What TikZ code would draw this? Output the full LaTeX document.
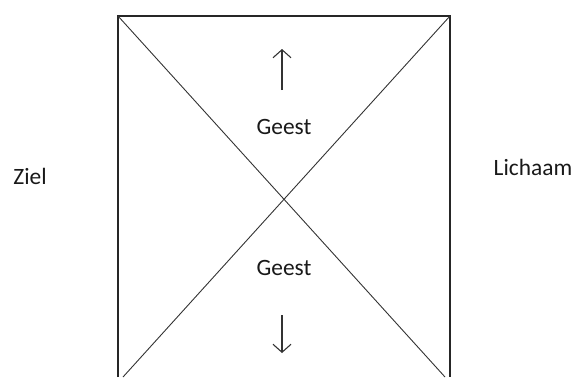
\documentclass[tikz,border=0pt]{standalone}
\usepackage{fontspec}
\setmainfont{Carlito}
\usetikzlibrary{arrows.meta, positioning}
\tikzset{
    frameLine/.style={line width=1.4bp, black!85},
    crossLine/.style={line width=0.9bp, black!80},
    flowArrow/.style={line width=1.1bp, black!80, -{Straight Barb[length=8bp, width=18bp]}},
    label/.style={font=\fontsize{23.5}{28}\selectfont, text=black!90, inner sep=0pt},
}

\begin{document}
\begin{tikzpicture}[x=1bp, y=-1bp]
    \useasboundingbox (0,0) rectangle (577,377);

    % FRAME
    \coordinate (TopLeft) at (118,16);
    \coordinate (TopRight) at (450,16);
    \coordinate (BotLeft) at (118,377);
    \coordinate (BotRight) at (450,377);
    \coordinate (CrossLeft) at (123,377);
    \coordinate (CrossRight) at (445,377);

    \draw[frameLine] (BotLeft) -- (TopLeft) -- (TopRight) -- (BotRight);
    \draw[crossLine] (TopLeft) -- (CrossRight);
    \draw[crossLine] (TopRight) -- (CrossLeft);

    % LABELS
    \node[label] (geestUp) at (284,127) {Geest};
    \node[label] (geestDown) at (284,268) {Geest};
    \node[label] (ziel) at (30,176) {Ziel};
    \node[label] (lichaam) at (533,167) {Lichaam};

    % ARROWS
    \coordinate (upStart) at (282,90);
    \coordinate (upEnd) at (282,49);
    \coordinate (downStart) at (282,315);
    \coordinate (downEnd) at (282,353);
    \draw[flowArrow] (upStart) -- (upEnd);
    \draw[flowArrow] (downStart) -- (downEnd);
\end{tikzpicture}
\end{document}
